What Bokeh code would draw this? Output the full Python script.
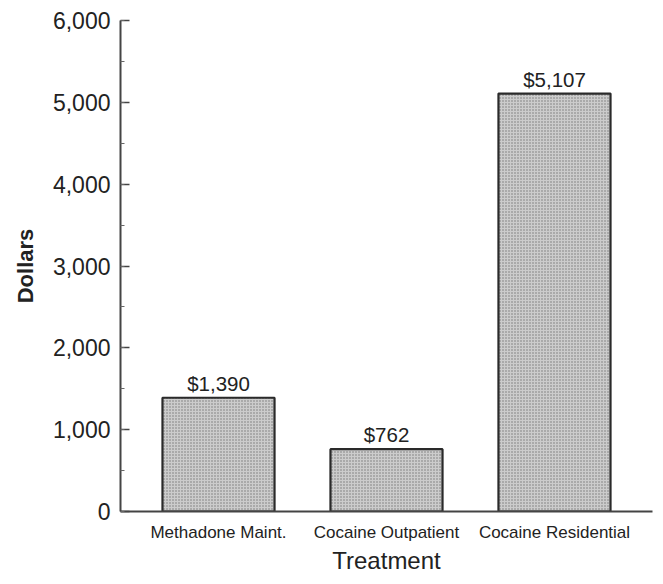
from bokeh.plotting import figure
from bokeh.models import ColumnDataSource, FactorRange, Range1d, SingleIntervalTicker, NumeralTickFormatter
from bokeh.core.properties import value
from bokeh.embed import file_html
from bokeh.resources import INLINE

# data
treatments = ["Methadone Maint.", "Cocaine Outpatient", "Cocaine Residential"]
costs = [1390, 762, 5107]
cost_labels = ["${:,}".format(c) for c in costs]
y_ticks = [0, 1000, 2000, 3000, 4000, 5000, 6000]

src = ColumnDataSource(dict(x=treatments, top=costs, label=cost_labels))

FONT = "Liberation Sans"
TXT = "#222222"

p = figure(
    x_range=FactorRange(*treatments, range_padding=0.0556),
    y_range=Range1d(y_ticks[0], y_ticks[-1]),
    width=655, height=576,
    min_border_left=120, min_border_right=3, min_border_top=20, min_border_bottom=64,
    output_backend="svg", toolbar_location=None,
)
p.outline_line_color = None
p.xgrid.grid_line_color = None
p.ygrid.grid_line_color = None

p.vbar(x="x", top="top", width=0.667, source=src,
       fill_color="#cccccc", line_color="#2a2a2a", line_width=2.2,
       hatch_pattern="dot", hatch_color="#777777", hatch_scale=3, hatch_weight=1)

p.text(x="x", y="top", text="label", source=src,
       text_align="center", text_baseline="bottom", y_offset=-3,
       text_font=value(FONT), text_font_size="20.5px", text_color=TXT)

# y axis
ya = p.yaxis[0]
ya.ticker = SingleIntervalTicker(interval=1000, num_minor_ticks=2)
ya.formatter = NumeralTickFormatter(format="0,0")
ya.axis_label = "Dollars"
ya.axis_label_text_font = FONT
ya.axis_label_text_font_size = "22px"
ya.axis_label_text_font_style = "bold"
ya.axis_label_text_color = TXT
ya.axis_label_standoff = 12
ya.major_label_text_font = FONT
ya.major_label_text_font_size = "23px"
ya.major_label_text_color = TXT
ya.major_label_standoff = 10
ya.major_tick_in = 9
ya.major_tick_out = 0
ya.minor_tick_in = 4
ya.minor_tick_out = 0
ya.axis_line_color = "#444444"
ya.axis_line_width = 2
ya.major_tick_line_color = "#444444"
ya.major_tick_line_width = 1.5
ya.minor_tick_line_color = "#666666"

# x axis
xa = p.xaxis[0]
xa.axis_label = "Treatment"
xa.axis_label_text_font = FONT
xa.axis_label_text_font_size = "24px"
xa.axis_label_text_font_style = "normal"
xa.axis_label_text_color = TXT
xa.axis_label_standoff = 2
xa.major_label_text_font = FONT
xa.major_label_text_font_size = "17px"
xa.major_label_text_color = TXT
xa.major_label_standoff = 5
xa.major_tick_line_color = None
xa.minor_tick_line_color = None
xa.axis_line_color = "#444444"
xa.axis_line_width = 2

open("out.html", "w").write(file_html(p, INLINE))
